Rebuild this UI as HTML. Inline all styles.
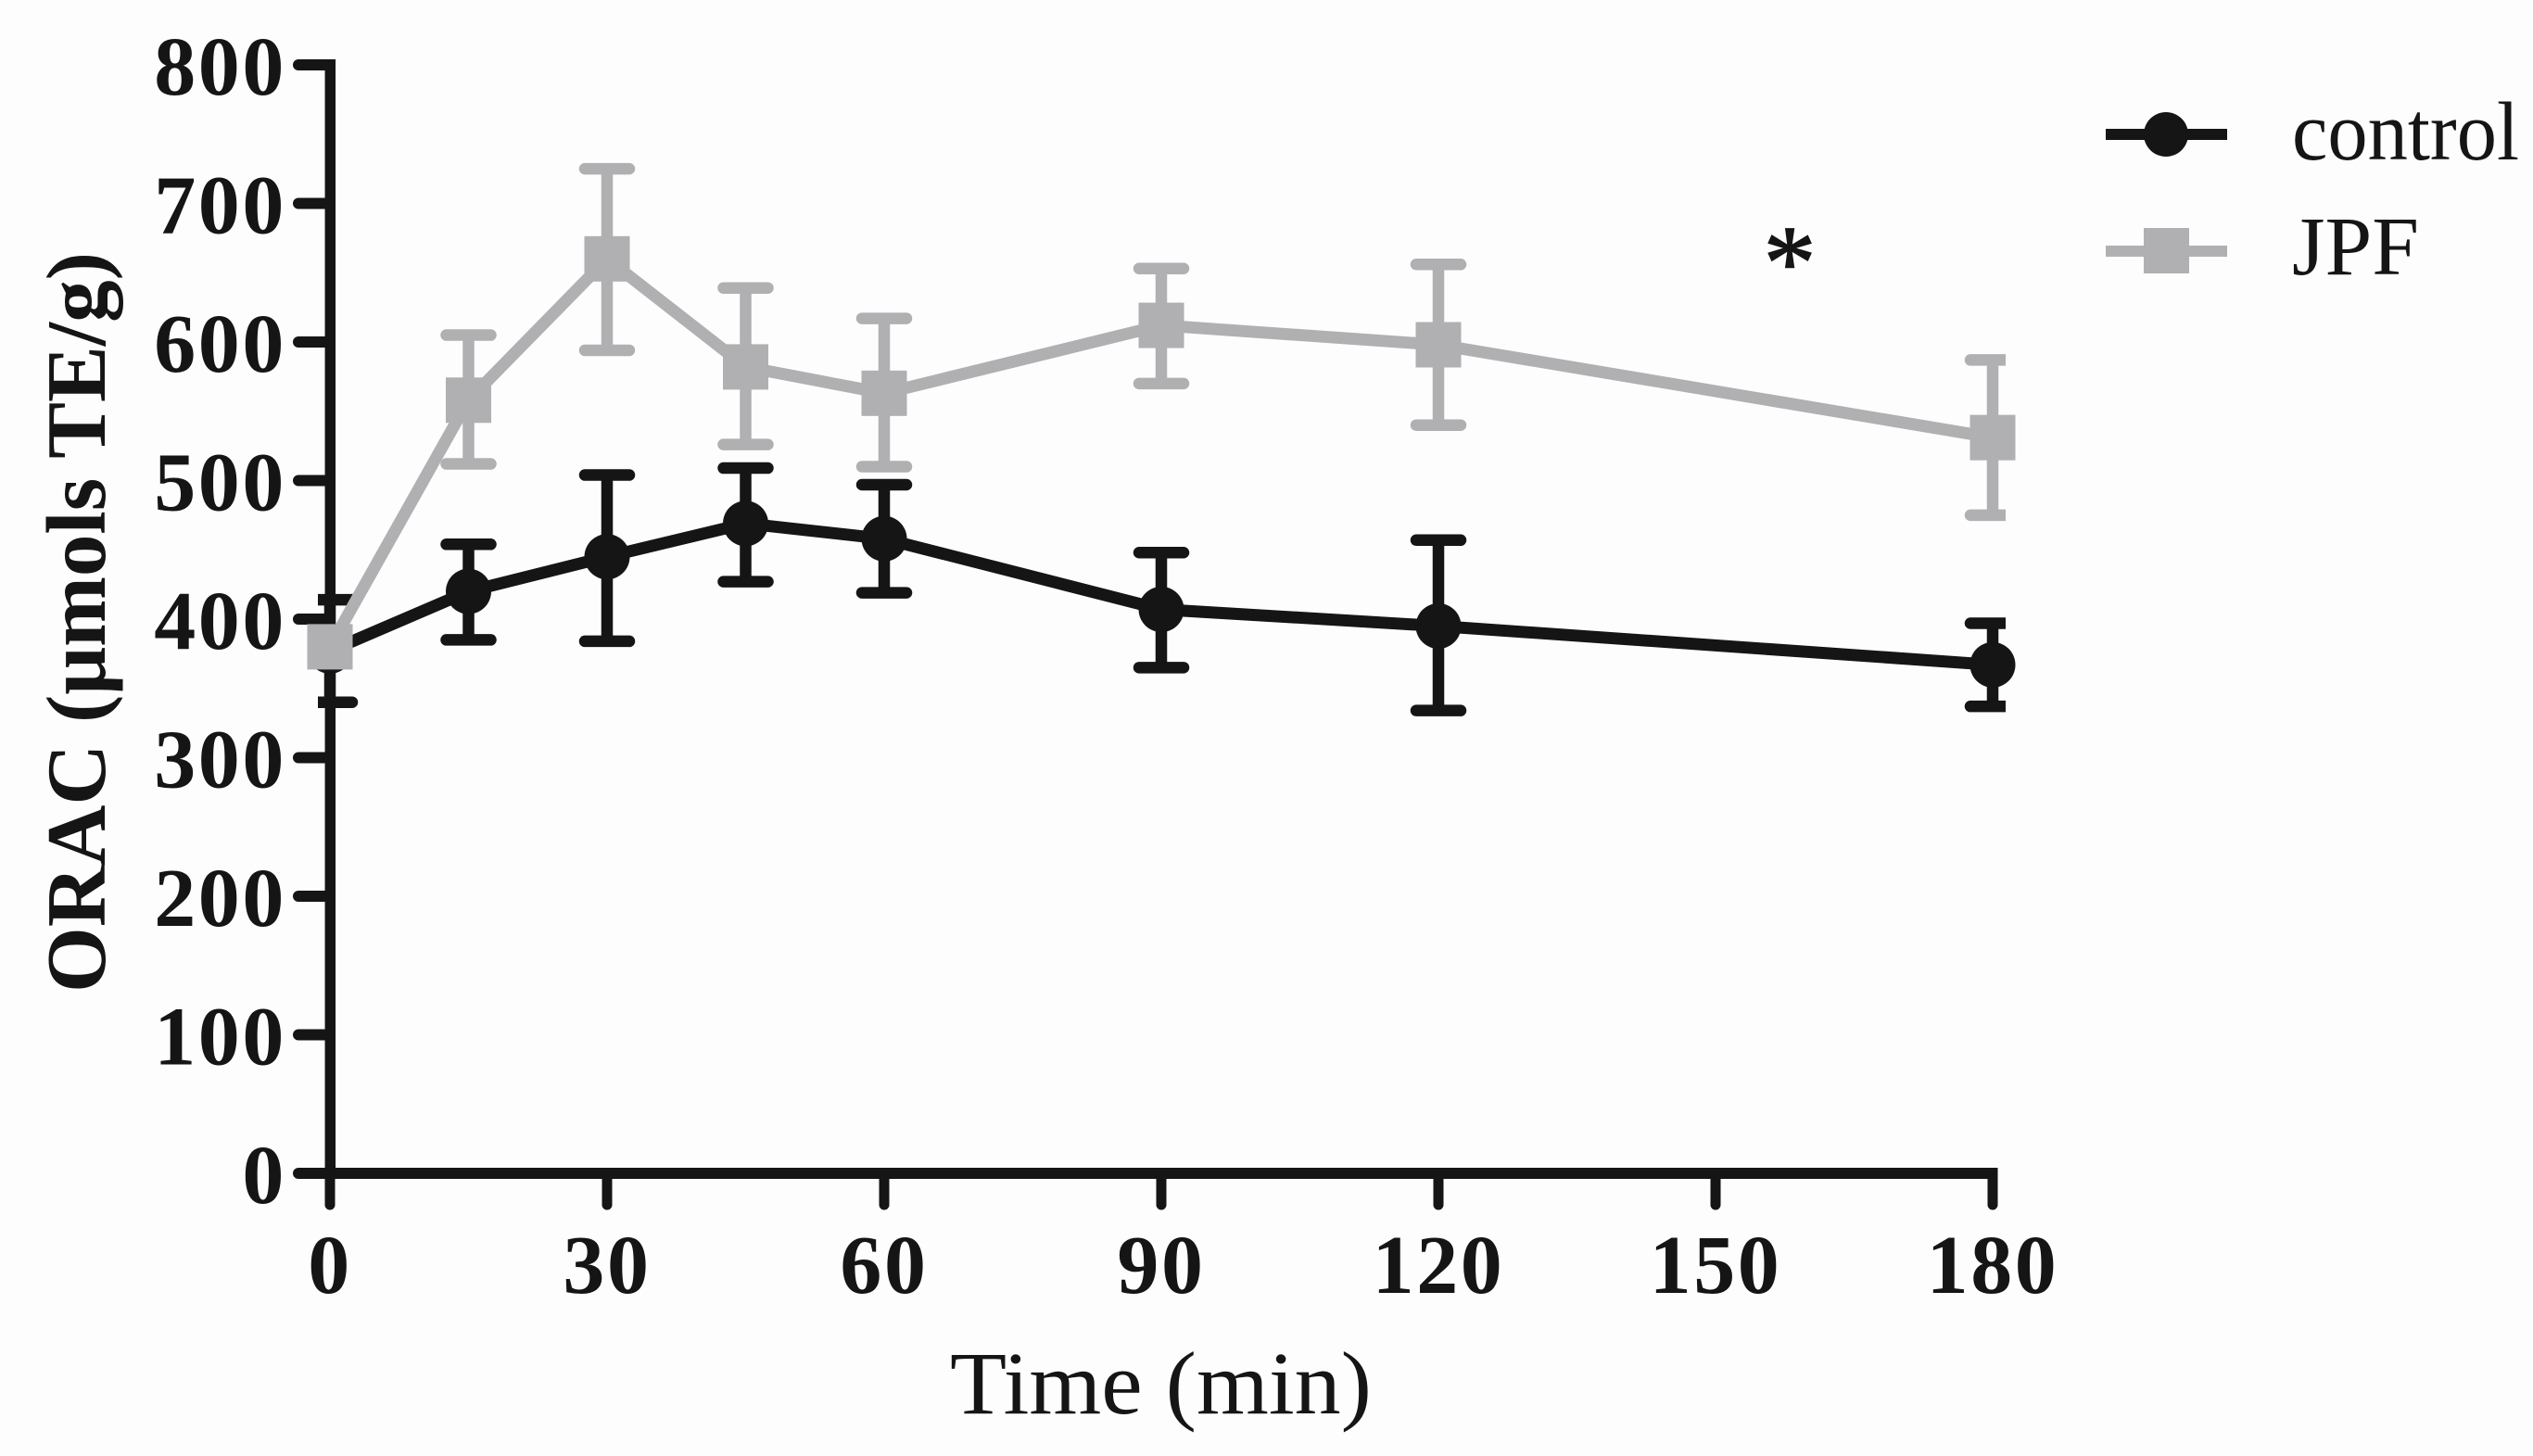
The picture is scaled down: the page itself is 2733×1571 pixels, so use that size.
<!DOCTYPE html>
<html lang="en">
<head>
<meta charset="utf-8">
<title>ORAC over time</title>
<style>
html,body{margin:0;padding:0;background:#fdfdfd;}
svg{display:block;}
text{font-family:"Liberation Serif",serif;fill:#151515;}
</style>
</head>
<body>
<svg id="chart" xmlns="http://www.w3.org/2000/svg" width="2733" height="1571" viewBox="0 0 2733 1571">
  <rect x="0" y="0" width="2733" height="1571" fill="#fdfdfd"/>
  <defs>
    <clipPath id="cap-clip"><rect id="cap-clip-rect" x="0" y="0" width="2733" height="1571"/></clipPath>
  </defs>
  <g id="axes"></g>
  <g id="series-control"></g>
  <g id="series-jpf"></g>
  <text transform="translate(113,1071) rotate(-90)" font-size="91" font-weight="700" textLength="799" lengthAdjust="spacingAndGlyphs">ORAC (μmols TE/g)</text>
  <text x="1025" y="1525" font-size="96" textLength="455" lengthAdjust="spacingAndGlyphs">Time (min)</text>
  <text x="1931" y="321" font-size="113" text-anchor="middle" stroke="#151515" stroke-width="1.5">*</text>
  <g>
    <g>
      <line x1="2272" y1="145" x2="2403" y2="145" stroke="#151515" stroke-width="12"/>
      <ellipse cx="2337" cy="145" rx="24" ry="24" fill="#151515"/>
      <text x="2473" y="172" font-size="90" textLength="245" lengthAdjust="spacingAndGlyphs">control</text>
    </g>
    <g>
      <line x1="2272" y1="271" x2="2403" y2="271" stroke="#b0b0b2" stroke-width="12"/>
      <rect x="2313" y="246" width="49" height="49" fill="#b0b0b2"/>
      <text x="2473" y="296" font-size="90" textLength="137" lengthAdjust="spacingAndGlyphs">JPF</text>
    </g>
  </g>
</svg>
<script>
var xTickValues = [0, 30, 60, 90, 120, 150, 180];
var yTickValues = [0, 100, 200, 300, 400, 500, 600, 700, 800];
var timePoints = [0, 15, 30, 45, 60, 90, 120, 180];
var controlMeans = [377, 420, 445, 469, 458, 407, 395, 367];
var controlUpper = [414, 454, 504, 509, 497, 448, 457, 397];
var controlLower = [340, 385, 384, 427, 419, 365, 334, 337];
var jpfMeans = [380, 558, 660, 582, 563, 612, 598, 531];
var jpfUpper = [380, 605, 725, 639, 617, 653, 656, 587];
var jpfLower = [380, 512, 594, 526, 510, 570, 540, 475];

var NS = 'http://www.w3.org/2000/svg';
var INK = '#151515';
var GREY = '#b0b0b2';

function xScale(t) { return 356 + (t / 180) * 1794; }
function yScale(v) { return 1266 - (v / 800) * 1196; }

function make(tag, parent, geometry) {
  var el = document.createElementNS(NS, tag);
  for (var k in geometry) { el.setAttribute(k, geometry[k]); }
  parent.appendChild(el);
  return el;
}

var clipRect = document.getElementById('cap-clip-rect');
clipRect.setAttribute('x', xScale(0) - 13);
clipRect.setAttribute('width', xScale(180) - xScale(0) + 27);

var axes = document.getElementById('axes');

var yAxisLine = make('line', axes, {x1: xScale(0) + 0.3, y1: yScale(800) - 6, x2: xScale(0) + 0.3, y2: yScale(0), stroke: INK, 'stroke-width': 11.5});



var xAxisLine = make('line', axes, {x1: xScale(0) - 34, y1: yScale(0), x2: xScale(180) + 5.5, y2: yScale(0), stroke: INK, 'stroke-width': 12});



yTickValues.forEach(function (v) {
  var tick = make('line', axes, {x1: xScale(0) - 34, y1: yScale(v), x2: xScale(0), y2: yScale(v), stroke: INK, 'stroke-width': 12, 'stroke-linecap': 'round'});
  
  
  var label = make('text', axes, {x: 309, y: yScale(v) + 32, 'font-size': 90, 'font-weight': 700, 'text-anchor': 'end', 'letter-spacing': 2.6});
  label.textContent = String(v);
  
  
});

xTickValues.forEach(function (t) {
  var tick = make('line', axes, {x1: xScale(t), y1: yScale(0), x2: xScale(t), y2: 1300, stroke: INK, 'stroke-width': 11, 'stroke-linecap': 'round'});
  
  
  var label = make('text', axes, {x: xScale(t), y: 1395, 'font-size': 90, 'font-weight': 700, 'text-anchor': 'middle', 'letter-spacing': 2.6});
  label.textContent = String(t);
  
  
});

function drawSeries(groupId, key, color, means, upper, lower, square) {
  var group = document.getElementById(groupId);
  var pts = timePoints.map(function (t, i) { return xScale(t) + ',' + yScale(means[i]); }).join(' ');
  var line = make('polyline', group, {points: pts, fill: 'none', stroke: color, 'stroke-width': 13, 'stroke-linejoin': 'round'});
  
  

  timePoints.forEach(function (t, i) {
    var x = xScale(t);
    if (upper[i] !== lower[i]) {
      var stem = make('line', group, {x1: x, y1: yScale(upper[i]), x2: x, y2: yScale(lower[i]), stroke: color, 'stroke-width': 12.5});
      
      
      [upper[i], lower[i]].forEach(function (v, j) {
        var cap = make('line', group, {x1: x - 24, y1: yScale(v), x2: x + 24, y2: yScale(v), stroke: color, 'stroke-width': 12.5, 'stroke-linecap': 'round', 'clip-path': 'url(#cap-clip)'});
        
        
      });
    }
    var marker;
    if (square) {
      marker = make('rect', group, {x: x - 24.5, y: yScale(means[i]) - 24.5, width: 49, height: 49, fill: color});
    } else {
      marker = make('circle', group, {cx: x, cy: yScale(means[i]), r: 24.5, fill: color});
    }
    
    
  });
}

drawSeries('series-control', 'control', INK, controlMeans, controlUpper, controlLower, false);
drawSeries('series-jpf', 'jpf', GREY, jpfMeans, jpfUpper, jpfLower, true);
</script>
</body>
</html>
